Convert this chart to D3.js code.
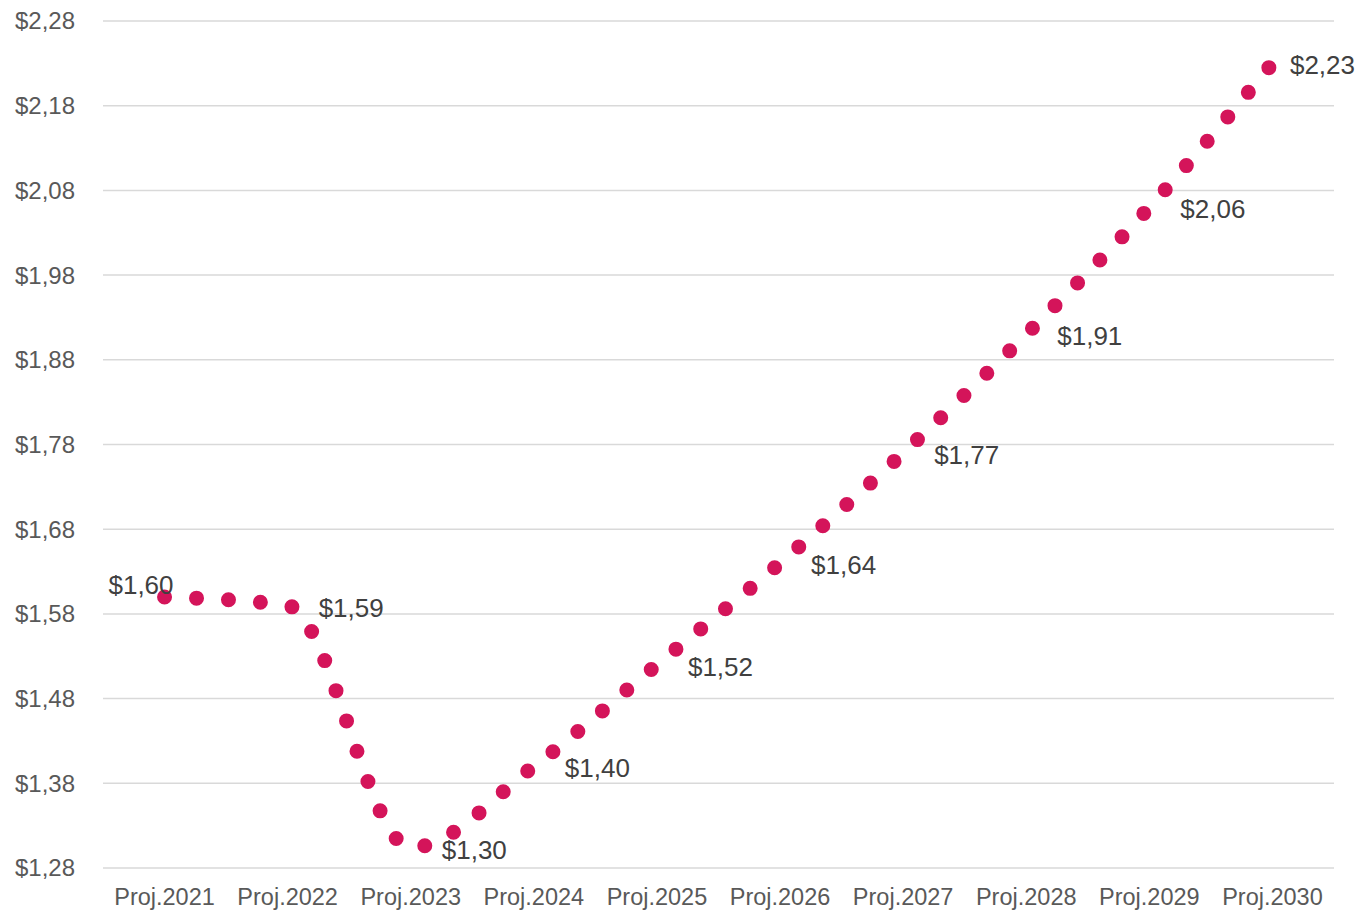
<!DOCTYPE html>
<html lang="en">
<head>
    <meta charset="UTF-8">
    <title>Proj. 2021-2030</title>
    <style>
        body { margin: 0; background: #fff; }
        #chart { width: 1361px; height: 910px; }
        text { font-family: "Liberation Sans", Arial, sans-serif; }
    </style>
</head>
<body>
    <div id="chart"></div>
    <script src="https://d3js.org/d3.v7.min.js"></script>
    <script>
        // values
        const years  = ["Proj.2021", "Proj.2022", "Proj.2023", "Proj.2024", "Proj.2025",
                        "Proj.2026", "Proj.2027", "Proj.2028", "Proj.2029", "Proj.2030"];
        const prices = [1.60, 1.59, 1.304, 1.40, 1.52, 1.64, 1.77, 1.91, 2.06, 2.23];
        const yTicks = [1.28, 1.38, 1.48, 1.58, 1.68, 1.78, 1.88, 1.98, 2.08, 2.18, 2.28];

        const width  = 1361;
        const height = 910;
        const plot   = { left: 103, right: 1334, top: 21, bottom: 868 };

        const fmt = v => "$" + v.toFixed(2).replace(".", ",");

        const x = d3.scaleBand().domain(years).range([plot.left, plot.right]).padding(0);
        const y = d3.scaleLinear().domain([1.28, 2.28]).range([plot.bottom, plot.top]);
        const cx = d => x(d) + x.bandwidth() / 2;

        const svg = d3.select("#chart").append("svg")
            .attr("width", width).attr("height", height);

        // gridlines
        svg.append("g").selectAll("line")
            .data(yTicks).enter().append("line")
            .attr("x1", plot.left).attr("x2", plot.right)
            .attr("y1", d => y(d)).attr("y2", d => y(d))
            .attr("stroke", "#d9d9d9").attr("stroke-width", 1.5);

        // y labels
        svg.append("g").selectAll("text")
            .data(yTicks).enter().append("text")
            .attr("x", 75).attr("y", d => y(d))
            .attr("dy", "0.35em")
            .attr("text-anchor", "end")
            .attr("font-size", 24).attr("fill", "#595959")
            .text(fmt);

        // x labels
        svg.append("g").selectAll("text")
            .data(years).enter().append("text")
            .attr("x", cx).attr("y", 905)
            .attr("text-anchor", "middle")
            .attr("font-size", 23.5).attr("fill", "#595959")
            .text(d => d);

        const pts = years.map((d, i) => ({ year: d, v: prices[i] }));

        const line = d3.line()
            .x(d => cx(d.year)).y(d => y(d.v))
            .curve(d3.curveMonotoneX);

        svg.append("path")
            .datum(pts)
            .attr("d", line)
            .attr("fill", "none")
            .attr("stroke", "#d4145a")
            .attr("stroke-width", 15)
            .attr("stroke-linecap", "round")
            .attr("stroke-dasharray", "0 32");

        // data labels, right of the point; first one sits up-left, last one kept inside
        svg.append("g").selectAll("text")
            .data(pts).enter().append("text")
            .attr("x", (d, i) => i === 0 ? cx(d.year) + 9 : (i === pts.length - 1 ? width - 6 : cx(d.year) + 31))
            .attr("y", (d, i) => i === 0 ? y(d.v) - 12 : y(d.v) + 2)
            .attr("dy", "0.35em")
            .attr("text-anchor", (d, i) => i === 0 || i === pts.length - 1 ? "end" : "start")
            .attr("font-size", 26).attr("fill", "#404040")
            .text(d => fmt(d.v));
    </script>
</body>
</html>
